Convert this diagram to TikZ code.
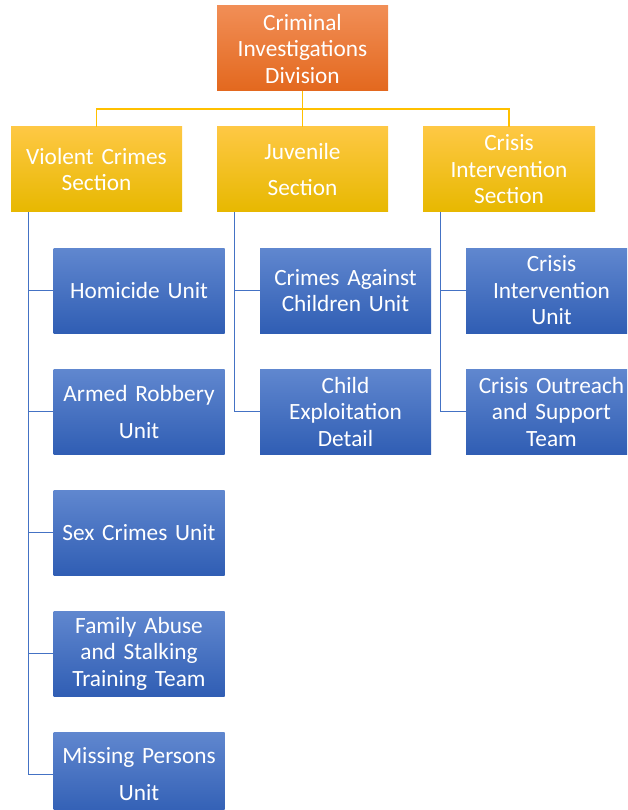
\documentclass[tikz,border=0pt]{standalone}
\usepackage{fontspec}
\setmainfont{Carlito}
\usetikzlibrary{positioning}

\definecolor{orgtop}{RGB}{241,142,86}
\definecolor{orgbot}{RGB}{227,104,30}
\definecolor{goldtop}{RGB}{254,200,68}
\definecolor{goldmid}{RGB}{255,192,0}
\definecolor{goldbot}{RGB}{231,184,0}
\definecolor{bluetop}{RGB}{96,135,207}
\definecolor{bluemid}{RGB}{68,114,196}
\definecolor{bluebot}{RGB}{48,94,180}

\tikzset{
  box/.style={minimum width=171pt,minimum height=85pt,inner sep=0pt,text width=170pt,
    align=center,text=white,font=\fontsize{23.3}{26.5}\selectfont},
  divbox/.style={box,top color=orgtop,bottom color=orgbot},
  secbox/.style={box,top color=goldtop,middle color=goldmid,bottom color=goldbot},
  unitbox/.style={box,top color=bluetop,middle color=bluemid,bottom color=bluebot},
  yline/.style={draw=goldmid,line width=1.4pt},
  bline/.style={draw=bluemid,line width=1.4pt}
}

\begin{document}
\begin{tikzpicture}[x=1pt,y=-1pt]
  \useasboundingbox (0,0) rectangle (627,810);
  \clip (0,0) rectangle (627,810);
  \node[divbox] (cid) at (302.5,48.5) {Criminal\\Investigations\\Division};
  \node[secbox] (vcs) at (96.5,169.5) {Violent Crimes\\Section};
  \node[secbox] (juv) at (302.5,169.5) {Juvenile\\[9.5pt]Section};
  \node[secbox,minimum width=172pt] (cis) at (509,169.5) {Crisis\\Intervention\\Section};
  \node[unitbox] (hom) at (139,290.5) {Homicide Unit};
  \node[unitbox] (arm) at (139,411.5) {Armed Robbery\\[10.5pt]Unit};
  \node[unitbox] (sex) at (139,532.5) {Sex Crimes Unit};
  \node[unitbox] (fam) at (139,653.5) {Family Abuse\\and Stalking\\Training Team};
  \node[unitbox] (mis) at (139,774.5) {Missing Persons\\[10.5pt]Unit};
  \node[unitbox] (cac) at (345.5,290.5) {Crimes Against\\Children Unit};
  \node[unitbox] (ced) at (345.5,411.5) {Child\\Exploitation\\Detail};
  \node[unitbox] (ciu) at (551.5,290.5) {Crisis\\Intervention\\Unit};
  \node[unitbox] (cos) at (551.5,411.5) {Crisis Outreach\\and Support\\Team};
  \coordinate (bar) at (302.5,109);
  \draw[yline] (vcs.north) |- (bar) -| (cis.north);
  \draw[yline] (cid) -- (juv);
  \foreach \sec/\units in {vcs/{hom,arm,sex,fam,mis},juv/{cac,ced},cis/{ciu,cos}}
    \foreach \u in \units
      \draw[bline] ([xshift=17.5pt]\sec.south west) |- (\u.west);
\end{tikzpicture}
\end{document}
